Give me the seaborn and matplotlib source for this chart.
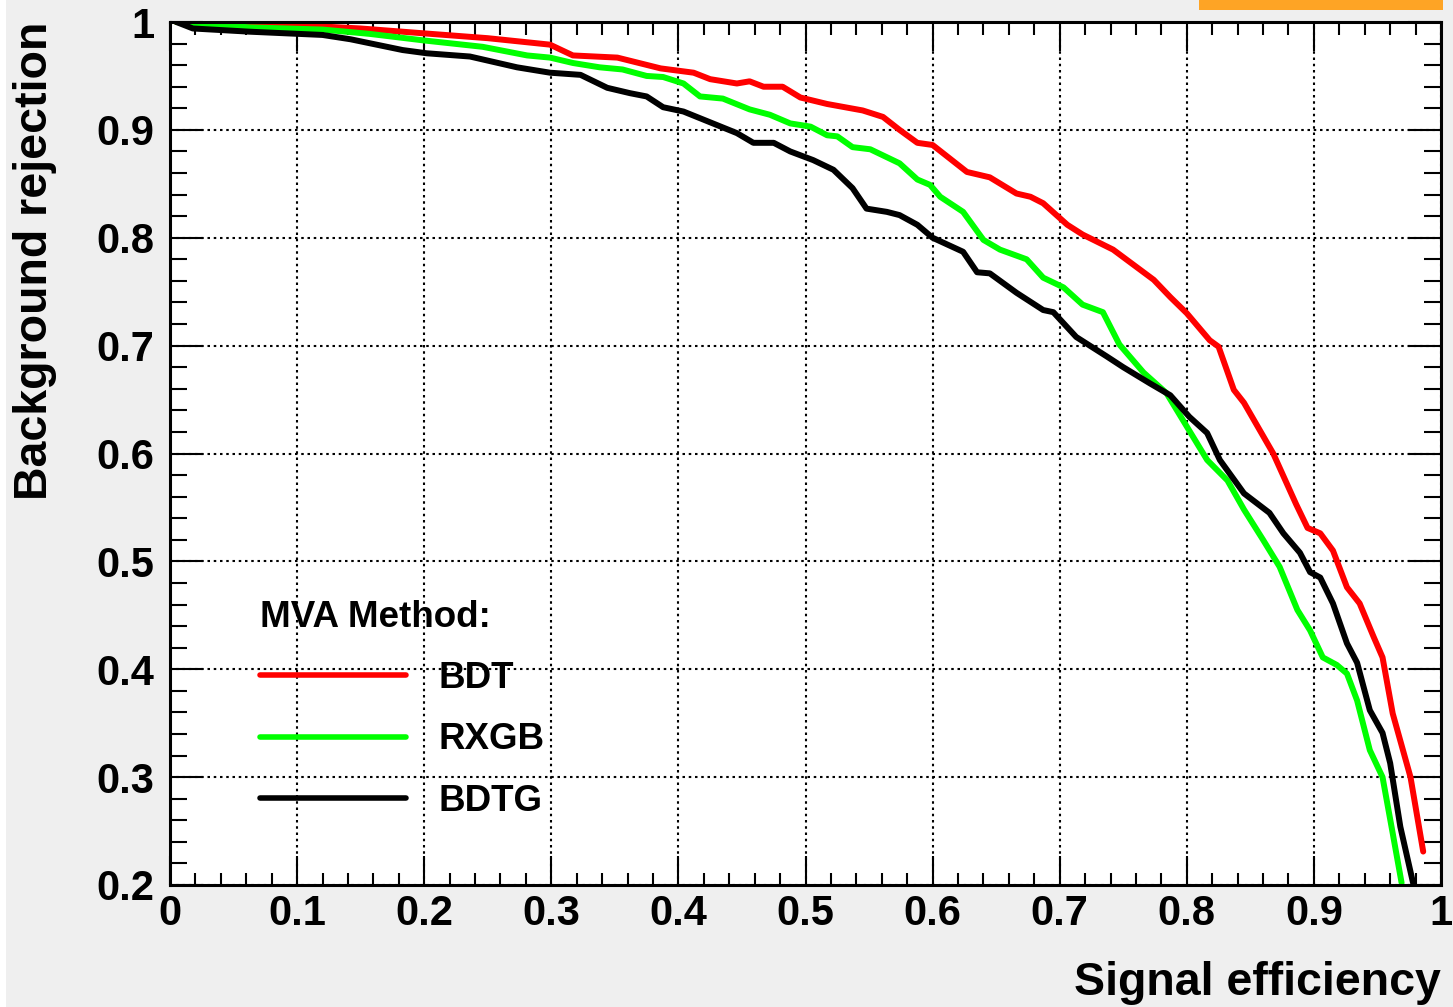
import numpy as np
import pandas as pd
import matplotlib
matplotlib.use("Agg")
import matplotlib.pyplot as plt
import seaborn as sns
from matplotlib.ticker import MultipleLocator, FuncFormatter
from matplotlib.patches import Rectangle

# ROC 数据: 信号效率 / 本底排除率
bdt_eff = [0.005, 0.05, 0.1, 0.15, 0.194, 0.25, 0.299, 0.317, 0.352, 0.386, 0.412,
           0.425, 0.446, 0.456, 0.467, 0.482, 0.496, 0.517, 0.545, 0.561, 0.574,
           0.588, 0.600, 0.627, 0.645, 0.666, 0.677, 0.687, 0.706, 0.718, 0.742,
           0.758, 0.774, 0.787, 0.800, 0.818, 0.825, 0.837, 0.845, 0.868, 0.886,
           0.895, 0.905, 0.915, 0.926, 0.936, 0.947, 0.954, 0.962, 0.976, 0.986]
bdt_rej = [1.0, 0.999, 0.997, 0.994, 0.990, 0.985, 0.979, 0.969, 0.967, 0.957, 0.953,
           0.947, 0.943, 0.945, 0.940, 0.940, 0.930, 0.924, 0.918, 0.912, 0.900,
           0.888, 0.886, 0.861, 0.856, 0.841, 0.838, 0.832, 0.812, 0.803, 0.789,
           0.775, 0.761, 0.745, 0.730, 0.705, 0.699, 0.659, 0.647, 0.600, 0.553,
           0.531, 0.526, 0.510, 0.476, 0.461, 0.430, 0.411, 0.359, 0.300, 0.231]

rxgb_eff = [0.005, 0.063, 0.12, 0.157, 0.199, 0.246, 0.281, 0.299, 0.317, 0.338,
            0.356, 0.375, 0.388, 0.404, 0.417, 0.435, 0.456, 0.472, 0.488, 0.504,
            0.517, 0.525, 0.537, 0.551, 0.574, 0.588, 0.598, 0.606, 0.624, 0.640,
            0.653, 0.674, 0.687, 0.703, 0.718, 0.734, 0.747, 0.766, 0.784, 0.800,
            0.816, 0.832, 0.845, 0.860, 0.873, 0.887, 0.897, 0.907, 0.918, 0.926,
            0.934, 0.944, 0.954, 0.962, 0.969]
rxgb_rej = [1.0, 0.995, 0.993, 0.989, 0.983, 0.977, 0.969, 0.967, 0.962, 0.958,
            0.956, 0.950, 0.949, 0.943, 0.931, 0.929, 0.919, 0.914, 0.906, 0.903,
            0.895, 0.894, 0.884, 0.882, 0.869, 0.854, 0.849, 0.838, 0.824, 0.798,
            0.789, 0.780, 0.763, 0.754, 0.738, 0.731, 0.701, 0.675, 0.656, 0.625,
            0.594, 0.575, 0.548, 0.520, 0.495, 0.455, 0.436, 0.411, 0.404, 0.396,
            0.371, 0.325, 0.300, 0.248, 0.202]

bdtg_eff = [0.005, 0.018, 0.063, 0.12, 0.142, 0.183, 0.202, 0.236, 0.273, 0.299,
            0.323, 0.344, 0.362, 0.375, 0.388, 0.404, 0.425, 0.446, 0.459, 0.475,
            0.488, 0.506, 0.522, 0.537, 0.548, 0.564, 0.574, 0.588, 0.600, 0.624,
            0.635, 0.645, 0.666, 0.687, 0.695, 0.713, 0.737, 0.750, 0.771, 0.787,
            0.802, 0.816, 0.826, 0.845, 0.865, 0.876, 0.889, 0.897, 0.905, 0.915,
            0.926, 0.934, 0.944, 0.954, 0.960, 0.968, 0.978]
bdtg_rej = [1.0, 0.994, 0.991, 0.988, 0.984, 0.974, 0.971, 0.968, 0.958, 0.953,
            0.951, 0.939, 0.934, 0.931, 0.921, 0.917, 0.907, 0.897, 0.888, 0.888,
            0.880, 0.872, 0.863, 0.846, 0.827, 0.824, 0.821, 0.812, 0.800, 0.787,
            0.768, 0.767, 0.749, 0.733, 0.731, 0.708, 0.690, 0.680, 0.665, 0.654,
            0.634, 0.619, 0.594, 0.563, 0.545, 0.526, 0.508, 0.490, 0.485, 0.461,
            0.424, 0.406, 0.362, 0.341, 0.313, 0.254, 0.202]

methods = ["BDT", "RXGB", "BDTG"]
colors = ["#ff0000", "#00ff00", "#000000"]

df = pd.concat([
    pd.DataFrame({"eff": bdt_eff, "rej": bdt_rej, "method": "BDT"}),
    pd.DataFrame({"eff": rxgb_eff, "rej": rxgb_rej, "method": "RXGB"}),
    pd.DataFrame({"eff": bdtg_eff, "rej": bdtg_rej, "method": "BDTG"}),
], ignore_index=True)

# 风格设置 (字体需在 set_theme 之后设置)
sns.set_theme(style="ticks")
plt.rcParams['font.family'] = ['Liberation Sans', 'DejaVu Sans']
plt.rcParams['font.weight'] = 'bold'
plt.rcParams['axes.labelweight'] = 'bold'
plt.rcParams['text.color'] = 'black'
plt.rcParams['axes.labelcolor'] = 'black'

W, H = 1453, 1007
fig = plt.figure(figsize=(W / 100, H / 100), dpi=100, facecolor='#efefef')
ax = fig.add_axes([170 / W, 122 / H, 1271 / W, 863 / H])
ax.set_facecolor('white')

for m, c in zip(methods, colors):
    sub = df[df["method"] == m]
    sns.lineplot(data=sub, x="eff", y="rej", color=c, lw=4.3, label=m,
                 estimator=None, sort=False, ax=ax)

ax.set_xlim(0, 1)
ax.set_ylim(0.2, 1)
ax.xaxis.set_major_locator(MultipleLocator(0.1))
ax.xaxis.set_minor_locator(MultipleLocator(0.02))
ax.yaxis.set_major_locator(MultipleLocator(0.1))
ax.yaxis.set_minor_locator(MultipleLocator(0.02))
fmt = FuncFormatter(lambda v, p: f"{v:g}")
ax.xaxis.set_major_formatter(fmt)
ax.yaxis.set_major_formatter(fmt)

ax.tick_params(axis='x', which='major', direction='in', length=21, width=1.5,
               top=True, bottom=True, pad=6.5, labelsize=30, colors='black')
ax.tick_params(axis='x', which='minor', direction='in', length=9, width=1.5,
               top=True, bottom=True, colors='black')
ax.tick_params(axis='y', which='major', direction='in', length=24, width=1.5,
               left=True, right=True, pad=11, labelsize=30, colors='black')
ax.tick_params(axis='y', which='minor', direction='in', length=12, width=1.5,
               left=True, right=True, colors='black')

for s in ax.spines.values():
    s.set_linewidth(2.2)
    s.set_color('black')

ax.grid(True, which='major', color='black', linestyle=(0, (1.2, 1.8)), linewidth=1.5)
ax.set_axisbelow(True)

ax.set_xlabel("Signal efficiency", fontsize=33.5, loc='right')
ax.xaxis.set_label_coords(1.0, -0.128)
ax.xaxis.label.set_va('baseline')
ax.set_ylabel("Background rejection", fontsize=33.5, loc='top')
ax.yaxis.set_label_coords(-0.106, 1.0)
ax.yaxis.label.set_va('center')

leg = ax.legend(title="MVA Method:", loc='upper left', bbox_to_anchor=(0.071, 0.330),
                frameon=False, fontsize=26.5, title_fontsize=26.5, alignment='left',
                borderpad=0, borderaxespad=0, handlelength=3.97, handletextpad=0.86,
                labelspacing=0.71)
leg.get_title().set_fontweight('bold')
for ln in leg.get_lines():
    ln.set_linewidth(4.0)

# 右上角的橙色标志条和左侧白边
fig.add_artist(Rectangle((1199 / W, 1 - 10 / H), 244 / W, 10 / H,
                         transform=fig.transFigure, color='#fea425', lw=0))
fig.add_artist(Rectangle((0, 0), 6 / W, 1, transform=fig.transFigure,
                         color='white', lw=0))

fig.savefig("out.png", dpi=100, facecolor=fig.get_facecolor())
